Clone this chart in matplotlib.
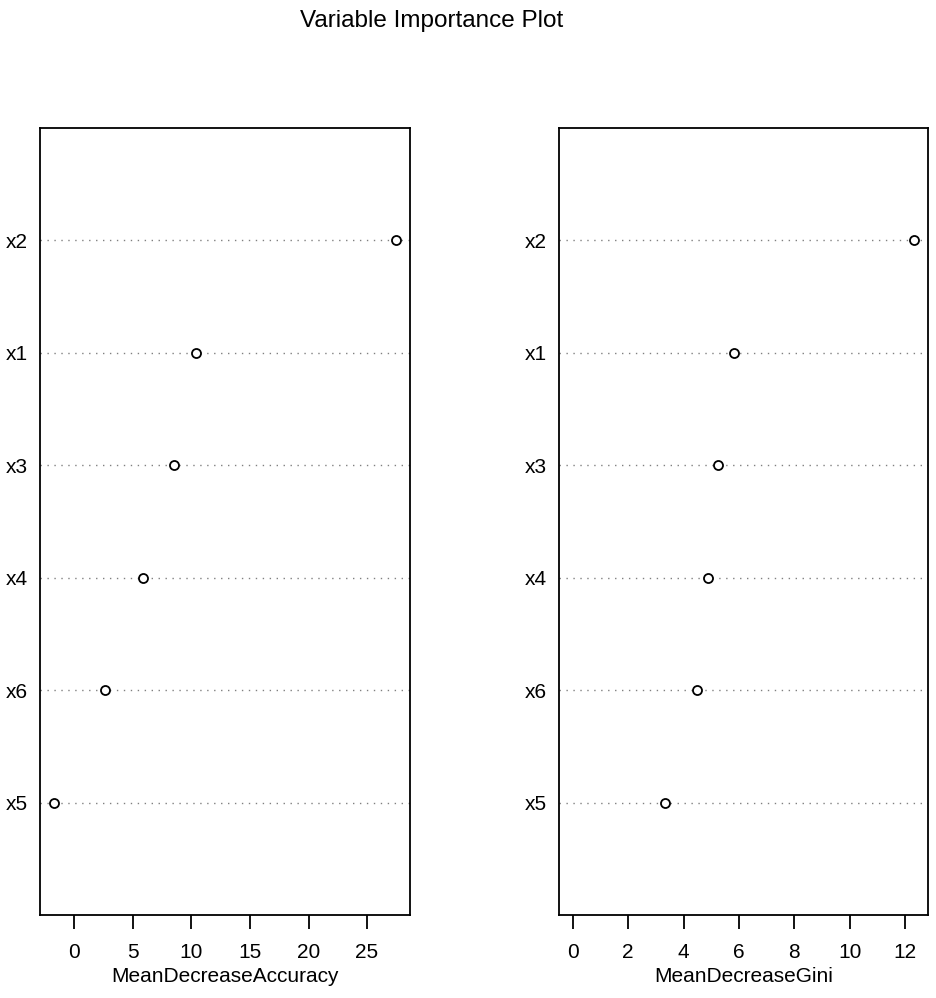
import numpy as np
import matplotlib.pyplot as plt

plt.rcParams['font.family'] = ['Liberation Sans', 'DejaVu Sans']

# variables from bottom to top, as in the dotchart
variables = ['x5', 'x6', 'x4', 'x3', 'x1', 'x2']
mean_decrease_accuracy = [-1.77, 2.65, 5.9, 8.55, 10.35, 27.5]
mean_decrease_gini = [3.35, 4.48, 4.90, 5.26, 5.83, 12.33]

acc_ticks = [0, 5, 10, 15, 20, 25]
gini_ticks = [0, 2, 4, 6, 8, 10, 12]

fig = plt.figure(figsize=(9.36, 9.98), dpi=100)
ax1 = fig.add_axes([40 / 936, 1 - 915 / 998, 370 / 936, 787 / 998])
ax2 = fig.add_axes([559 / 936, 1 - 915 / 998, 369 / 936, 787 / 998])


def dotchart(ax, values, ticks, xlabel, xmin=None):
    y = np.arange(1, len(values) + 1)
    for yy in y:
        ax.axhline(yy, color='#808080', lw=1.0, ls=(0, (1, 4)), zorder=1)
    ax.plot(values, y, 'o', ms=6.5, mfc='white', mec='black', mew=1.3,
            ls='none', zorder=3)
    lo = min(values) if xmin is None else xmin
    hi = max(values)
    pad = 0.04 * (hi - lo)
    ax.set_xlim(lo - pad, hi + pad)
    ax.set_ylim(0, len(values) + 1)
    ax.set_yticks(y)
    ax.set_yticklabels(variables, fontsize=15)
    ax.set_xticks(ticks)
    ax.set_xticklabels([str(t) for t in ticks], fontsize=15)
    ax.tick_params(axis='y', length=0, pad=8.5)
    ax.tick_params(axis='x', length=10, width=1.3, pad=10, direction='out')
    ax.set_xlabel(xlabel, fontsize=15, labelpad=4)
    for s in ax.spines.values():
        s.set_linewidth(1.3)


dotchart(ax1, mean_decrease_accuracy, acc_ticks, 'MeanDecreaseAccuracy')
dotchart(ax2, mean_decrease_gini, gini_ticks, 'MeanDecreaseGini', xmin=0)

fig.text(432 / 936, 1 - 21 / 998, 'Variable Importance Plot', fontsize=17.5,
         ha='center', va='center')

fig.savefig('out.png', dpi=100)
